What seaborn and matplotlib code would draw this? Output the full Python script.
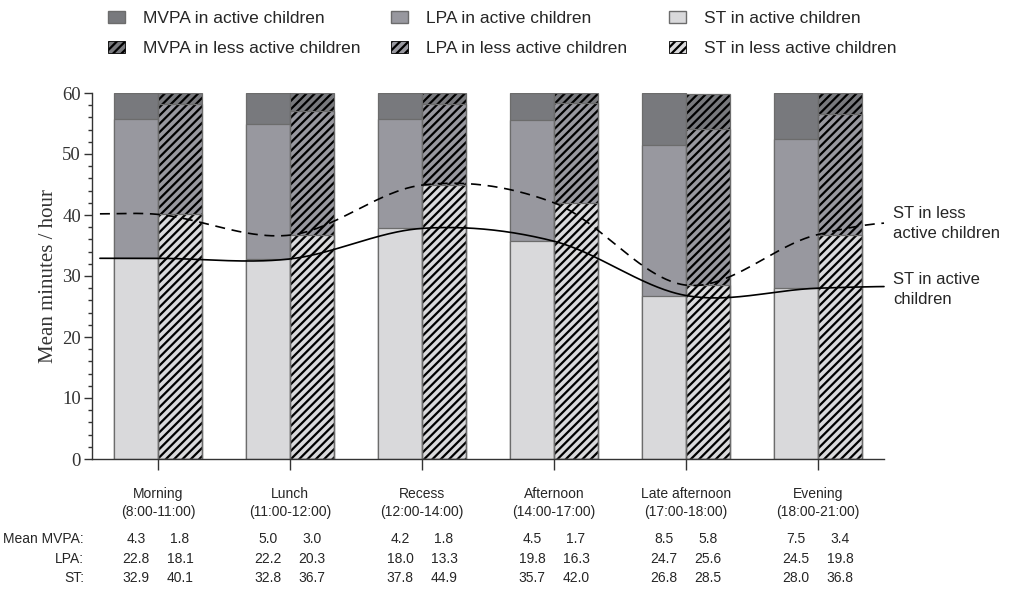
import numpy as np
import pandas as pd
import matplotlib
matplotlib.use("Agg")
import matplotlib.pyplot as plt
from matplotlib.patches import Patch, Rectangle
from matplotlib.transforms import blended_transform_factory
import seaborn as sns

# ---- data (mean minutes per hour) ----
periods = ["Morning", "Lunch", "Recess", "Afternoon", "Late afternoon", "Evening"]
period_times = ["(8:00-11:00)", "(11:00-12:00)", "(12:00-14:00)",
                "(14:00-17:00)", "(17:00-18:00)", "(18:00-21:00)"]
groups = ["active", "less active"]

mvpa_active = [4.3, 5.0, 4.2, 4.5, 8.5, 7.5]
mvpa_less = [1.8, 3.0, 1.8, 1.7, 5.8, 3.4]
lpa_active = [22.8, 22.2, 18.0, 19.8, 24.7, 24.5]
lpa_less = [18.1, 20.3, 13.3, 16.3, 25.6, 19.8]
st_active = [32.9, 32.8, 37.8, 35.7, 26.8, 28.0]
st_less = [40.1, 36.7, 44.9, 42.0, 28.5, 36.8]

row_labels = ["Mean MVPA:", "LPA:", "ST:"]

# ---- styling ----
sns.set_theme(style="white")
plt.rcParams["font.family"] = ["Liberation Sans", "DejaVu Sans"]
plt.rcParams["hatch.linewidth"] = 1.6
plt.rcParams["hatch.color"] = "black"

c_mvpa = "#78797d"
c_lpa = "#98989f"
c_st = "#d9d9db"
edge = "#6c6c6c"
HATCH = "////"

fig = plt.figure(figsize=(10.12, 5.95), dpi=100)
ax = fig.add_axes([92 / 1012, 1 - 459 / 595, (884 - 92) / 1012, (459 - 93) / 595])

# cumulative heights so that each layer can be drawn over the previous one
df = pd.DataFrame({
    "period": periods * 2,
    "group": [groups[0]] * 6 + [groups[1]] * 6,
    "mvpa": mvpa_active + mvpa_less,
    "lpa": lpa_active + lpa_less,
    "st": st_active + st_less,
})
df["top_mvpa"] = df["st"] + df["lpa"] + df["mvpa"]
df["top_lpa"] = df["st"] + df["lpa"]
df["top_st"] = df["st"]

for col, colour in [("top_mvpa", c_mvpa), ("top_lpa", c_lpa), ("top_st", c_st)]:
    n_before = len(ax.containers)
    sns.barplot(data=df, x="period", y=col, hue="group", order=periods,
                hue_order=groups, palette=[colour, colour], width=2 / 3,
                gap=0, edgecolor=edge, linewidth=0.9, errorbar=None,
                legend=False, ax=ax, saturation=1)
    # hatch the less-active bars: black hatching, grey outline drawn on top
    for p in ax.containers[n_before + 1]:
        p.set_hatch(HATCH)
        p.set_edgecolor("black")
        p.set_linewidth(0)
        ax.add_patch(Rectangle(p.get_xy(), p.get_width(), p.get_height(),
                               fill=False, edgecolor=edge, linewidth=0.9,
                               zorder=p.get_zorder() + 0.01))


# ---- smooth sedentary-time curves (Catmull-Rom through the group centres) ----
def hermite(p0, p1, m0, m1, length, num=80):
    t = np.linspace(0, 1, num)
    h00 = 2 * t ** 3 - 3 * t ** 2 + 1
    h10 = t ** 3 - 2 * t ** 2 + t
    h01 = -2 * t ** 3 + 3 * t ** 2
    h11 = t ** 3 - t ** 2
    return t, h00 * p0 + h10 * length * m0 + h01 * p1 + h11 * length * m1


def st_curve(values, left_ext=0.44, right_ext=0.5, end_scale=0.6):
    y = np.asarray(values, float)
    n = len(y)
    m = np.empty(n)
    m[1:-1] = (y[2:] - y[:-2]) / 2
    m[0] = end_scale * (y[1] - y[0])
    m[-1] = end_scale * (y[-1] - y[-2])

    xs, ys = [], []
    # left tail, drawn outward from the first point and levelling off
    t, yl = hermite(y[0], y[0] - 0.1 * m[0] * left_ext, -m[0], 0.0, left_ext)
    xs.append((0 - t * left_ext)[::-1])
    ys.append(yl[::-1])
    for i in range(n - 1):
        t, yi = hermite(y[i], y[i + 1], m[i], m[i + 1], 1.0)
        xs.append(i + t)
        ys.append(yi)
    # right tail, easing into a gentle rise
    t, yr = hermite(y[-1], y[-1] + 0.75 * m[-1] * right_ext, m[-1], 0.3 * m[-1], right_ext)
    xs.append(n - 1 + t * right_ext)
    ys.append(yr)
    return np.concatenate(xs), np.concatenate(ys)


xa, ya = st_curve(st_active)
xl_, yl_ = st_curve(st_less)
ax.plot(xa, ya, color="black", lw=1.2, zorder=5, clip_on=False)
ax.plot(xl_, yl_, color="black", lw=1.2, ls=(0, (6, 4)), zorder=5, clip_on=False)

ax.text(5.57, yl_[-1], "ST in less\nactive children",
        fontsize=12, ha="left", va="center", linespacing=1.4)
ax.text(5.57, ya[-1] - 0.5, "ST in active\nchildren",
        fontsize=12, ha="left", va="center", linespacing=1.4)

# ---- axes ----
ax.set_xlim(-0.5, 5.5)
ax.set_ylim(0, 60)
sns.despine(ax=ax, top=True, right=True)
for s in ["left", "bottom"]:
    ax.spines[s].set_color("#333333")
    ax.spines[s].set_linewidth(1.0)
ax.set_yticks(np.arange(0, 61, 10))
ax.set_yticks(np.arange(0, 61, 2), minor=True)
ax.tick_params(axis="y", which="major", direction="out", length=6, width=1,
               color="#333333", left=True, pad=2)
ax.tick_params(axis="y", which="minor", direction="out", length=3, width=1,
               color="#333333", left=True)
ax.tick_params(axis="x", which="major", direction="out", length=8, width=1,
               color="#333333", bottom=True, labelbottom=False)
for lab in ax.get_yticklabels():
    lab.set_family(["Liberation Serif", "DejaVu Serif"])
    lab.set_fontsize(13.5)
    lab.set_color("#333333")
ax.set_xlabel("")
ax.set_ylabel("Mean minutes / hour", family=["Liberation Serif", "DejaVu Serif"],
              fontsize=15, color="#333333", labelpad=3)

# ---- table of values under the bars ----
tr = blended_transform_factory(ax.transData, fig.transFigure)
def fy(py):
    return 1 - py / 595

tab_fs = 10
row_y = [539, 559, 578]
for i, (name, tm) in enumerate(zip(periods, period_times)):
    fig.text(i, fy(494), name, transform=tr, ha="center", va="center", fontsize=tab_fs)
    fig.text(i, fy(512), tm, transform=tr, ha="center", va="center", fontsize=tab_fs)
    for r, (va_, vl_) in enumerate([(mvpa_active, mvpa_less), (lpa_active, lpa_less),
                                     (st_active, st_less)]):
        fig.text(i - 1 / 6, fy(row_y[r]), f"{va_[i]:.1f}", transform=tr, ha="center",
                 va="center", fontsize=tab_fs)
        fig.text(i + 1 / 6, fy(row_y[r]), f"{vl_[i]:.1f}", transform=tr, ha="center",
                 va="center", fontsize=tab_fs)
for r, lab in enumerate(row_labels):
    fig.text(84 / 1012, fy(row_y[r]), lab, ha="right", va="center", fontsize=tab_fs)

# ---- legend: one two-row block per activity level ----
legend_cols = [
    (c_mvpa, "MVPA", 101),
    (c_lpa, "LPA", 384),
    (c_st, "ST", 662),
]
for colour, name, px in legend_cols:
    handles = [
        Patch(facecolor=colour, edgecolor=edge, label=f"{name} in active children"),
        Patch(facecolor=colour, edgecolor="black", hatch=HATCH, linewidth=0.6,
              label=f"{name} in less active children"),
    ]
    fig.legend(handles=handles, ncol=1, loc="upper left",
               bbox_to_anchor=(px / 1012, 0.994), frameon=False, fontsize=12.5,
               handlelength=1.0, handleheight=0.75, handletextpad=1.0,
               labelspacing=0.85, borderaxespad=0.0)

fig.savefig("out.png", dpi=100)
